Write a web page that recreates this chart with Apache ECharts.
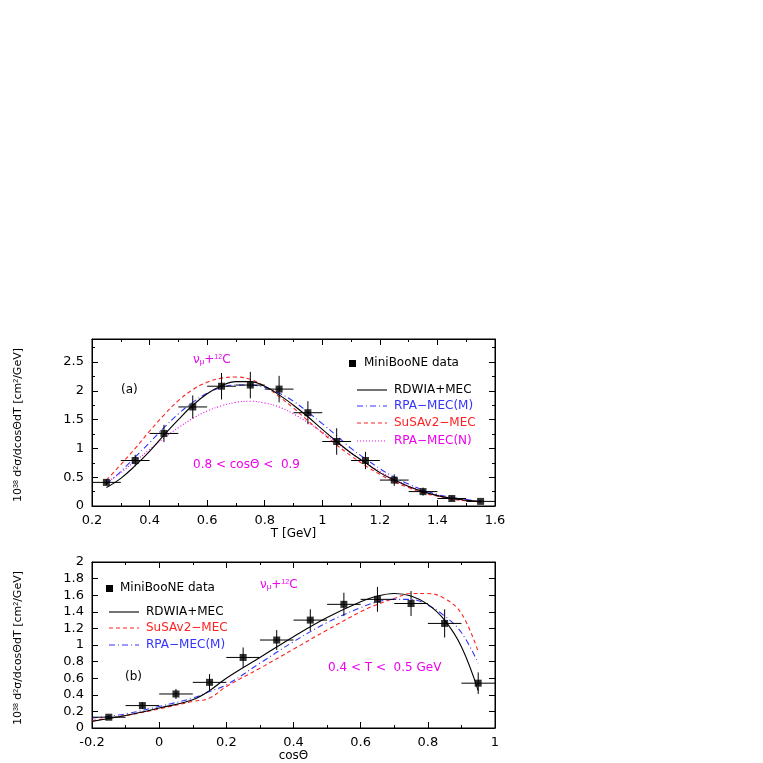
<!DOCTYPE html><html><head><meta charset="utf-8">
<script src="https://cdn.jsdelivr.net/npm/echarts@6/dist/echarts.min.js"></script>
<style>html,body{margin:0;background:#fff}#c{width:763px;height:763px}</style></head><body><div id="c"></div>
<script>
// Panel (a): T [GeV]
const aX=[0.25,0.35,0.45,0.55,0.65,0.75,0.85,0.95,1.05,1.15,1.25,1.35,1.45,1.55];
const aY=[0.41,0.79,1.26,1.72,2.08,2.10,2.03,1.62,1.12,0.79,0.45,0.25,0.13,0.08];
const aErr=[0.05,0.1,0.15,0.2,0.23,0.23,0.23,0.2,0.23,0.15,0.1,0.07,0.04,0.02];
const aCurveX=[0.25,0.3,0.35,0.4,0.45,0.5,0.55,0.6,0.65,0.7,0.75,0.8,0.85,0.9,0.95,1.0,1.05,1.1,1.15,1.2,1.25,1.3,1.35,1.4,1.45,1.5,1.55];
const aRDWIA=[0.32,0.48,0.7,0.95,1.23,1.5,1.75,1.95,2.09,2.16,2.16,2.08,1.93,1.75,1.55,1.33,1.12,0.92,0.75,0.58,0.45,0.34,0.25,0.18,0.13,0.1,0.08];
const aRPAM=[0.38,0.6,0.85,1.1,1.36,1.6,1.8,1.96,2.06,2.1,2.1,2.06,1.96,1.82,1.63,1.43,1.22,1.0,0.82,0.65,0.5,0.38,0.28,0.2,0.15,0.11,0.08];
const aSuSA=[0.45,0.72,1.0,1.3,1.58,1.83,2.02,2.15,2.22,2.24,2.2,2.08,1.9,1.7,1.48,1.27,1.06,0.87,0.7,0.55,0.42,0.32,0.23,0.17,0.12,0.09,0.07];
const aRPAN=[0.4,0.58,0.78,0.98,1.18,1.36,1.52,1.65,1.74,1.8,1.82,1.79,1.72,1.6,1.45,1.28,1.1,0.92,0.75,0.6,0.46,0.35,0.26,0.19,0.13,0.1,0.07];
// Panel (b): cos theta
const bX=[-0.15,-0.05,0.05,0.15,0.25,0.35,0.45,0.55,0.65,0.75,0.85,0.95];
const bY=[0.13,0.27,0.41,0.55,0.85,1.06,1.30,1.49,1.55,1.50,1.26,0.54];
const bErr=[0.02,0.04,0.06,0.1,0.12,0.12,0.13,0.14,0.15,0.15,0.17,0.13];
const bCurveX=[-0.2,-0.1,0,0.1,0.15,0.2,0.3,0.4,0.5,0.6,0.65,0.7,0.75,0.8,0.85,0.9,0.95];
const bRDWIA=[0.08,0.15,0.24,0.34,0.45,0.6,0.85,1.1,1.33,1.52,1.59,1.62,1.59,1.49,1.3,0.98,0.45];
const bSuSA=[0.09,0.15,0.23,0.32,0.36,0.5,0.72,0.95,1.18,1.4,1.49,1.56,1.62,1.62,1.56,1.38,0.92];
const bRPAM=[0.12,0.17,0.26,0.36,0.44,0.52,0.78,1.04,1.27,1.45,1.52,1.55,1.55,1.48,1.35,1.15,0.78];
const binHalf=0.05;
const zip=(x,y)=>x.map((v,i)=>[v,y[i]]);
const F='"DejaVu Sans",sans-serif';
const axisCommon={axisLine:{onZero:false,lineStyle:{color:'#000'}},axisTick:{inside:true,length:6,lineStyle:{color:'#000'}},minorTick:{show:true,splitNumber:2,length:3,lineStyle:{color:'#000'}},splitLine:{show:false},axisLabel:{color:'#000',fontSize:13,fontFamily:F}};
function errSeries(x,y,e,gi){return {type:'custom',xAxisIndex:gi,yAxisIndex:gi,data:x.map((v,i)=>[v,y[i],e[i]]),z:5,
 renderItem:(p,api)=>{const xv=api.value(0),yv=api.value(1),ev=api.value(2);
  const l=api.coord([xv-binHalf,yv]),r=api.coord([xv+binHalf,yv]),t=api.coord([xv,yv+ev]),b=api.coord([xv,yv-ev]);
  const s={stroke:'#000',lineWidth:1};
  return {type:'group',children:[{type:'line',shape:{x1:l[0],y1:l[1],x2:r[0],y2:r[1]},style:s},{type:'line',shape:{x1:t[0],y1:t[1],x2:b[0],y2:b[1]},style:s}]};}};}
function pts(x,y,gi){return {type:'scatter',xAxisIndex:gi,yAxisIndex:gi,data:zip(x,y),symbol:'rect',symbolSize:7,itemStyle:{color:'#000'},z:6};}
function ln(x,y,gi,color,type){return {type:'line',xAxisIndex:gi,yAxisIndex:gi,data:zip(x,y),smooth:0.4,showSymbol:false,lineStyle:{color,width:1.1,type}};}
const RED=[4,3],BLU=[6,3,1,3],MAG=[1,2];
function legLine(x,y,color,dash){return {type:'line',shape:{x1:x,y1:y,x2:x+30,y2:y},style:{stroke:color,lineWidth:1.1,lineDash:dash}};}
function txt(x,y,t,color){return {type:'text',x,y,style:{text:t,fill:color||'#000',font:'12px '+F,textVerticalAlign:'middle'}};}
function nu(x,y){return {type:'text',x,y,style:{text:'ν{d|μ}+{s|12}C',fill:'#e0e',font:'12px '+F,textVerticalAlign:'middle',rich:{s:{fontSize:7,fill:'#e0e',verticalAlign:'top'},d:{fontSize:8,fill:'#e0e',verticalAlign:'bottom'}}}};}
const chart=echarts.init(document.getElementById('c'));
chart.setOption({animation:false,
 grid:[{left:92,width:403,top:339,height:167,show:true,borderColor:'#000',borderWidth:1},{left:92,width:403,top:562,height:167,show:true,borderColor:'#000',borderWidth:1}],
 xAxis:[Object.assign({type:'value',gridIndex:0,min:0.2,max:1.6,interval:0.2,name:'T [GeV]',nameLocation:'middle',nameGap:22,nameTextStyle:{fontSize:12,fontFamily:F,color:'#000'}},axisCommon),
  Object.assign({type:'value',gridIndex:0,position:'top',min:0.2,max:1.6,interval:0.2},axisCommon,{axisLabel:{show:false}}),
  Object.assign({type:'value',gridIndex:1,min:-0.2,max:1,interval:0.2,name:'cosΘ',nameLocation:'middle',nameGap:22,nameTextStyle:{fontSize:12,fontFamily:F,color:'#000'}},axisCommon),
  Object.assign({type:'value',gridIndex:1,position:'top',min:-0.2,max:1,interval:0.2},axisCommon,{axisLabel:{show:false}})],
 yAxis:[Object.assign({type:'value',gridIndex:0,min:0,max:2.9,interval:0.5},axisCommon,{axisLabel:Object.assign({},axisCommon.axisLabel,{showMaxLabel:false})}),
  Object.assign({type:'value',gridIndex:0,position:'right',min:0,max:2.9,interval:0.5},axisCommon,{axisLabel:{show:false}}),
  Object.assign({type:'value',gridIndex:1,min:0,max:2,interval:0.2},axisCommon,{minorTick:{show:false}}),
  Object.assign({type:'value',gridIndex:1,position:'right',min:0,max:2,interval:0.2},axisCommon,{minorTick:{show:false},axisLabel:{show:false}})],
 series:[
  ln(aCurveX,aRPAN,0,'#e0e',MAG),ln(aCurveX,aSuSA,0,'#f22',RED),ln(aCurveX,aRPAM,0,'#33f',BLU),ln(aCurveX,aRDWIA,0,'#000','solid'),
  errSeries(aX,aY,aErr,0),pts(aX,aY,0),
  ln(bCurveX,bSuSA,2,'#f22',RED),ln(bCurveX,bRPAM,2,'#33f',BLU),ln(bCurveX,bRDWIA,2,'#000','solid'),
  errSeries(bX,bY,bErr,2),pts(bX,bY,2)],
 graphic:[
  {type:'rect',shape:{x:349,y:360,width:7,height:7},style:{fill:'#000'}},txt(364,363,'MiniBooNE data'),
  legLine(357,390,'#000',null),txt(394,390,'RDWIA+MEC'),
  legLine(357,406,'#33f',BLU),txt(394,406,'RPA−MEC(M)','#33f'),
  legLine(357,423,'#f22',RED),txt(394,423,'SuSAv2−MEC','#f22'),
  legLine(357,441,'#e0e',MAG),txt(394,441,'RPA−MEC(N)','#e0e'),
  nu(193,360),txt(121,390,'(a)'),txt(193,465,'0.8 < cosΘ <  0.9','#e0e'),
  {type:'rect',shape:{x:106,y:585,width:7,height:7},style:{fill:'#000'}},txt(120,588,'MiniBooNE data'),
  legLine(109,612,'#000',null),txt(146,612,'RDWIA+MEC'),
  legLine(109,628,'#f22',RED),txt(146,628,'SuSAv2−MEC','#f22'),
  legLine(109,645,'#33f',BLU),txt(146,645,'RPA−MEC(M)','#33f'),
  nu(260,585),txt(125,677,'(b)'),txt(328,668,'0.4 < T <  0.5 GeV','#e0e'),
  {type:'text',x:18,y:425,rotation:Math.PI/2,style:{text:'10{s|38} d{s|2}σ/dcosΘdT [cm{s|2}/GeV]',font:'11px '+F,fill:'#000',align:'center',verticalAlign:'middle',rich:{s:{fontSize:7,verticalAlign:'top'}}}},
  {type:'text',x:18,y:648,rotation:Math.PI/2,style:{text:'10{s|38} d{s|2}σ/dcosΘdT [cm{s|2}/GeV]',font:'11px '+F,fill:'#000',align:'center',verticalAlign:'middle',rich:{s:{fontSize:7,verticalAlign:'top'}}}}
 ]});
</script></body></html>
